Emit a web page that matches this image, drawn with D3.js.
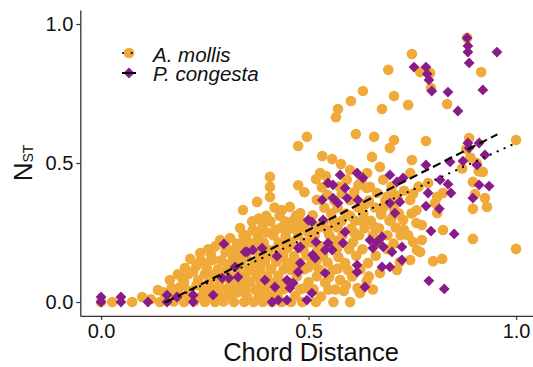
<!DOCTYPE html>
<html>
<head>
<meta charset="utf-8">
<script src="https://cdn.jsdelivr.net/npm/d3@7"></script>
<style>
  body { margin: 0; background: #fff; }
  svg text { font-family: "Liberation Sans", Arial, Helvetica, sans-serif; }
</style>
</head>
<body>
<div id="chart"></div>
<script>
// A. mollis points: [chord distance, N_ST]
const mollis = [
  [0.000,0.000],[0.027,0.000],[0.075,0.000],[0.099,0.018],[0.142,0.000],[0.137,0.043],[0.160,0.020],[0.175,0.002],
  [0.166,0.079],[0.190,0.054],[0.195,0.086],[0.190,0.022],[0.202,0.122],[0.200,0.000],[0.212,0.040],[0.215,0.020],
  [0.225,0.003],[0.222,0.110],[0.234,0.079],[0.239,0.176],[0.243,0.022],[0.246,0.050],[0.250,0.000],[0.255,0.140],
  [0.258,0.190],[0.260,0.068],[0.262,0.020],[0.270,0.151],[0.272,0.098],[0.275,0.000],[0.278,0.046],[0.282,0.118],
  [0.285,0.072],[0.287,0.223],[0.288,0.022],[0.295,0.002],[0.296,0.092],[0.300,0.180],[0.302,0.046],[0.305,0.135],
  [0.308,0.112],[0.311,0.230],[0.312,0.070],[0.314,0.020],[0.318,0.160],[0.320,0.000],[0.322,0.093],[0.325,0.047],
  [0.328,0.210],[0.330,0.120],[0.333,0.190],[0.335,0.266],[0.338,0.068],[0.340,0.143],[0.342,0.331],[0.343,0.240],
  [0.345,0.000],[0.347,0.093],[0.348,0.045],[0.350,0.166],[0.352,0.020],[0.355,0.118],[0.358,0.213],[0.360,0.072],
  [0.362,0.190],[0.364,0.290],[0.366,0.259],[0.368,0.000],[0.370,0.140],[0.372,0.045],[0.375,0.093],[0.376,0.360],
  [0.378,0.236],[0.380,0.020],[0.382,0.168],[0.384,0.116],[0.386,0.068],[0.388,0.263],[0.390,0.000],[0.392,0.214],
  [0.395,0.143],[0.396,0.045],[0.398,0.310],[0.400,0.092],[0.400,0.190],[0.402,0.020],[0.405,0.168],[0.407,0.378],
  [0.407,0.414],[0.407,0.450],[0.408,0.290],[0.410,0.118],[0.410,0.070],[0.412,0.000],[0.415,0.240],[0.418,0.340],
  [0.420,0.190],[0.422,0.145],[0.425,0.022],[0.427,0.094],[0.428,0.215],[0.430,0.310],[0.432,0.266],[0.435,0.000],
  [0.436,0.331],[0.438,0.166],[0.440,0.046],[0.440,0.118],[0.443,0.290],[0.445,0.238],[0.447,0.142],[0.450,0.195],
  [0.452,0.070],[0.455,0.342],[0.456,0.265],[0.458,0.000],[0.458,0.115],[0.460,0.215],[0.465,0.165],[0.468,0.022],
  [0.470,0.310],[0.472,0.093],[0.475,0.240],[0.475,0.420],[0.478,0.142],[0.480,0.320],[0.480,0.046],[0.482,0.290],
  [0.485,0.000],[0.487,0.190],[0.490,0.118],[0.490,0.395],[0.492,0.268],[0.495,0.168],[0.496,0.594],[0.475,0.561],
  [0.500,0.072],[0.505,0.215],[0.508,0.142],[0.510,0.312],[0.512,0.046],[0.515,0.240],[0.518,0.442],[0.518,0.000],
  [0.520,0.093],[0.520,0.368],[0.522,0.190],[0.524,0.268],[0.525,0.118],[0.528,0.464],[0.530,0.020],[0.532,0.413],
  [0.533,0.525],[0.535,0.290],[0.535,0.166],[0.538,0.340],[0.540,0.070],[0.542,0.453],[0.545,0.386],[0.546,0.142],
  [0.548,0.045],[0.550,0.240],[0.552,0.215],[0.555,0.318],[0.557,0.514],[0.558,0.115],[0.560,0.000],[0.562,0.365],
  [0.565,0.045],[0.566,0.665],[0.568,0.190],[0.570,0.268],[0.571,0.694],[0.572,0.162],[0.575,0.415],[0.576,0.079],
  [0.578,0.496],[0.580,0.292],[0.582,0.240],[0.585,0.040],[0.588,0.140],[0.590,0.318],[0.592,0.440],[0.595,0.115],
  [0.598,0.190],[0.600,0.000],[0.600,0.366],[0.600,0.475],[0.602,0.723],[0.603,0.264],[0.605,0.092],[0.607,0.215],
  [0.610,0.395],[0.612,0.292],[0.614,0.604],[0.615,0.166],[0.618,0.050],[0.620,0.340],[0.622,0.240],[0.624,0.032],
  [0.625,0.118],[0.628,0.438],[0.630,0.190],[0.631,0.759],[0.632,0.318],[0.635,0.265],[0.640,0.075],[0.641,0.464],
  [0.643,0.140],[0.645,0.365],[0.645,0.092],[0.648,0.414],[0.650,0.292],[0.653,0.522],[0.655,0.045],[0.655,0.240],
  [0.658,0.594],[0.660,0.340],[0.662,0.166],[0.665,0.392],[0.668,0.215],[0.670,0.265],[0.672,0.104],[0.672,0.486],
  [0.675,0.315],[0.677,0.694],[0.680,0.440],[0.685,0.365],[0.690,0.240],[0.692,0.835],[0.695,0.292],[0.696,0.554],
  [0.700,0.415],[0.705,0.340],[0.706,0.583],[0.706,0.741],[0.708,0.385],[0.710,0.268],[0.713,0.115],[0.718,0.318],
  [0.720,0.144],[0.722,0.240],[0.728,0.295],[0.740,0.709],[0.745,0.151],[0.745,0.367],[0.745,0.464],[0.748,0.318],
  [0.749,0.511],[0.749,0.892],[0.752,0.216],[0.752,0.390],[0.760,0.284],[0.761,0.187],[0.765,0.415],[0.769,0.180],
  [0.769,0.827],[0.773,0.223],[0.773,0.277],[0.783,0.579],[0.788,0.428],[0.793,0.824],[0.795,0.770],[0.800,0.147],
  [0.805,0.356],[0.810,0.378],[0.810,0.320],[0.822,0.155],[0.824,0.392],[0.824,0.259],[0.834,0.712],[0.870,0.480],
  [0.880,0.550],[0.882,0.950],[0.887,0.590],[0.890,0.520],[0.896,0.432],[0.896,0.335],[0.896,0.227],[0.901,0.388],
  [0.905,0.500],[0.910,0.470],[0.916,0.827],[0.920,0.468],[0.925,0.374],[0.930,0.342],[1.000,0.583],[1.000,0.191],
  // denser core
  [0.120,0.010],[0.150,0.035],[0.170,0.050],[0.180,0.030],[0.200,0.070],[0.210,0.100],[0.185,0.100],[0.230,0.060],
  [0.230,0.130],[0.240,0.150],[0.215,0.155],[0.250,0.100],[0.255,0.122],[0.265,0.170],[0.275,0.200],[0.290,0.150],
  [0.300,0.200],[0.310,0.025],[0.315,0.185],[0.330,0.035],[0.335,0.160],[0.345,0.215],[0.350,0.240],[0.285,0.040],
  [0.265,0.045],[0.300,0.110],[0.320,0.130],[0.370,0.210],[0.380,0.300],[0.390,0.280],[0.400,0.250],[0.420,0.260],
  [0.420,0.040],[0.430,0.070],[0.445,0.210],[0.460,0.290],[0.465,0.135],[0.470,0.260],[0.490,0.215],[0.490,0.050],
  [0.500,0.250],[0.500,0.125],[0.385,0.145],[0.360,0.115],[0.440,0.180],[0.530,0.200],[0.545,0.260],[0.560,0.290],
  [0.565,0.220],[0.570,0.340],[0.580,0.390],[0.600,0.310],[0.610,0.250],[0.590,0.060],[0.550,0.090],[0.520,0.150],
  [0.630,0.290],[0.635,0.350],[0.640,0.410],[0.620,0.420],[0.570,0.120],[0.660,0.270],[0.680,0.340],[0.690,0.380],
  [0.700,0.300],[0.715,0.370],[0.730,0.400],[0.730,0.260],[0.760,0.330],[0.740,0.240],[0.690,0.190],[0.705,0.210]
];

// P. congesta points
const congesta = [
  [0.000,0.018],[0.000,0.000],[0.048,0.018],[0.048,0.000],[0.113,0.000],[0.159,0.025],[0.159,0.000],[0.183,0.018],
  [0.222,0.025],[0.222,0.000],[0.270,0.025],[0.292,0.086],[0.296,0.209],[0.308,0.086],[0.323,0.126],[0.330,0.090],
  [0.347,0.180],[0.352,0.180],[0.366,0.187],[0.388,0.194],[0.395,0.079],[0.412,0.000],[0.419,0.054],[0.424,0.165],
  [0.427,0.007],[0.448,0.007],[0.448,0.079],[0.455,0.050],[0.463,0.068],[0.475,0.108],[0.475,0.194],[0.480,0.140],
  [0.480,0.198],[0.496,0.007],[0.499,0.295],[0.508,0.032],[0.508,0.288],[0.510,0.169],[0.516,0.158],[0.518,0.216],
  [0.533,0.367],[0.535,0.295],[0.540,0.104],[0.540,0.187],[0.547,0.212],[0.547,0.428],[0.557,0.187],[0.559,0.421],
  [0.559,0.374],[0.571,0.356],[0.576,0.457],[0.583,0.212],[0.588,0.252],[0.588,0.410],[0.593,0.374],[0.617,0.108],
  [0.617,0.133],[0.617,0.464],[0.619,0.367],[0.631,0.446],[0.636,0.054],[0.648,0.223],[0.655,0.194],[0.665,0.216],
  [0.677,0.126],[0.677,0.234],[0.680,0.198],[0.696,0.126],[0.696,0.356],[0.696,0.457],[0.701,0.180],[0.708,0.320],
  [0.713,0.432],[0.720,0.360],[0.725,0.151],[0.725,0.198],[0.728,0.446],[0.754,0.845],[0.783,0.845],[0.783,0.345],
  [0.783,0.493],[0.786,0.820],[0.788,0.392],[0.790,0.076],[0.790,0.799],[0.795,0.255],[0.797,0.759],[0.815,0.335],
  [0.817,0.439],[0.827,0.047],[0.836,0.424],[0.836,0.755],[0.841,0.504],[0.843,0.392],[0.851,0.245],[0.860,0.687],
  [0.872,0.507],[0.882,0.950],[0.884,0.921],[0.884,0.899],[0.884,0.572],[0.887,0.860],[0.887,0.554],[0.896,0.374],
  [0.906,0.493],[0.911,0.572],[0.911,0.421],[0.920,0.763],[0.925,0.529],[0.935,0.417],[0.954,0.899]
];

// fitted lines (start, end)
const mollisFit = [[0.155, 0.000], [1.000, 0.572]];
const congestaFit = [[0.157, 0.000], [0.955, 0.603]];

const xTicks = [0, 0.5, 1];
const yTicks = [0, 0.5, 1];

const orange = '#F0AA3A';
const purple = '#891B89';

const W = 533, H = 367;
const svg = d3.select('#chart').append('svg')
  .attr('width', W)
  .attr('height', H);

// panel with 5% expansion like ggplot
const x = d3.scaleLinear().domain([-0.05, 1.05]).range([80.3, 536.8]);
const y = d3.scaleLinear().domain([-0.05, 1.05]).range([315.9, 10.1]);

// points
svg.append('g')
  .selectAll('circle')
  .data(mollis)
  .enter().append('circle')
  .attr('cx', d => x(d[0]))
  .attr('cy', d => y(d[1]))
  .attr('r', 5.3)
  .attr('fill', orange);

const diamond = 'M0,-5.4L5.4,0L0,5.4L-5.4,0Z';
svg.append('g')
  .selectAll('path')
  .data(congesta)
  .enter().append('path')
  .attr('d', diamond)
  .attr('transform', d => `translate(${x(d[0])},${y(d[1])})`)
  .attr('fill', purple);

// fit lines
const line = d3.line().x(d => x(d[0])).y(d => y(d[1]));
svg.append('path')
  .datum(mollisFit)
  .attr('d', line)
  .attr('fill', 'none')
  .attr('stroke', '#000')
  .attr('stroke-width', 2.2)
  .attr('stroke-linecap', 'round')
  .attr('stroke-dasharray', '0.1,7.5');

svg.append('path')
  .datum(congestaFit)
  .attr('d', line)
  .attr('fill', 'none')
  .attr('stroke', '#000')
  .attr('stroke-width', 2.2)
  .attr('stroke-dasharray', '8.5,4.5');

// axes
const xAxis = svg.append('g')
  .attr('transform', 'translate(0,315.9)')
  .call(d3.axisBottom(x).tickValues(xTicks).tickFormat(d3.format('.1f')).tickSizeInner(4).tickSizeOuter(0).tickPadding(4));

const yAxis = svg.append('g')
  .attr('transform', 'translate(80.3,0)')
  .call(d3.axisLeft(y).tickValues(yTicks).tickFormat(d3.format('.1f')).tickSizeInner(4).tickSizeOuter(0).tickPadding(3));

[xAxis, yAxis].forEach(g => {
  g.select('.domain').attr('stroke', '#333').attr('stroke-width', 1.3);
  g.selectAll('.tick line').attr('stroke', '#333').attr('stroke-width', 1.2);
  g.selectAll('.tick text')
    .attr('fill', '#111')
    .style('font-size', '20px')
    .style('font-family', '"Liberation Sans", Arial, sans-serif');
});

// axis titles
svg.append('text')
  .attr('x', 311)
  .attr('y', 361)
  .attr('text-anchor', 'middle')
  .attr('fill', '#111')
  .style('font-size', '25.5px')
  .text('Chord Distance');

const yTitle = svg.append('text')
  .attr('transform', 'translate(32,163) rotate(-90)')
  .attr('text-anchor', 'middle')
  .attr('fill', '#111')
  .style('font-size', '26px');
yTitle.append('tspan').text('N');
yTitle.append('tspan').style('font-size', '14px').attr('dy', 1).text('ST');

// legend
const legend = svg.append('g');
legend.append('circle').attr('cx', 129).attr('cy', 53).attr('r', 5.3).attr('fill', orange);
legend.append('line')
  .attr('x1', 123).attr('x2', 136).attr('y1', 53).attr('y2', 53)
  .attr('stroke', '#000').attr('stroke-width', 2)
  .attr('stroke-linecap', 'round').attr('stroke-dasharray', '0.1,8.5');
legend.append('path').attr('d', diamond).attr('transform', 'translate(129,73)').attr('fill', purple);
legend.append('line')
  .attr('x1', 122).attr('x2', 136).attr('y1', 73).attr('y2', 73)
  .attr('stroke', '#000').attr('stroke-width', 2);

legend.append('text')
  .attr('x', 153).attr('y', 62)
  .style('font-size', '20.5px').style('font-style', 'italic')
  .attr('fill', '#111')
  .text('A. mollis');
legend.append('text')
  .attr('x', 153).attr('y', 81)
  .style('font-size', '20.5px').style('font-style', 'italic')
  .attr('fill', '#111')
  .text('P. congesta');
</script>
</body>
</html>
